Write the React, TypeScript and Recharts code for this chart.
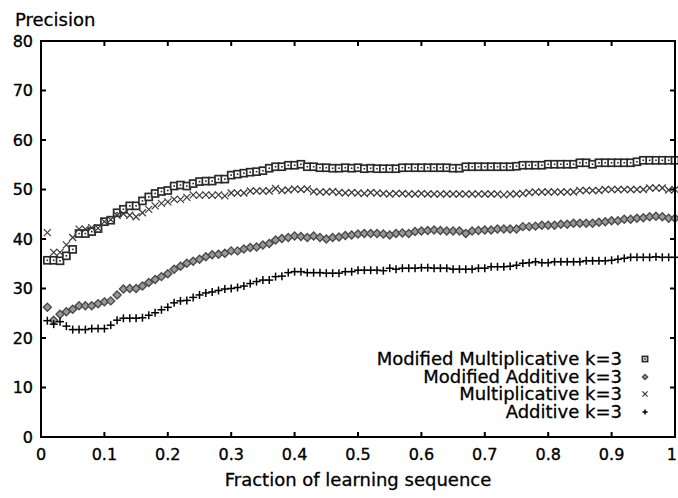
import React from "react";
import { ScatterChart, Scatter, XAxis, YAxis, ReferenceArea } from "recharts";

const fractions = [
  0.01, 0.02, 0.03, 0.04, 0.05, 0.06, 0.07, 0.08, 0.09, 0.1,
  0.11, 0.12, 0.13, 0.14, 0.15, 0.16, 0.17, 0.18, 0.19, 0.2,
  0.21, 0.22, 0.23, 0.24, 0.25, 0.26, 0.27, 0.28, 0.29, 0.3,
  0.31, 0.32, 0.33, 0.34, 0.35, 0.36, 0.37, 0.38, 0.39, 0.4,
  0.41, 0.42, 0.43, 0.44, 0.45, 0.46, 0.47, 0.48, 0.49, 0.5,
  0.51, 0.52, 0.53, 0.54, 0.55, 0.56, 0.57, 0.58, 0.59, 0.6,
  0.61, 0.62, 0.63, 0.64, 0.65, 0.66, 0.67, 0.68, 0.69, 0.7,
  0.71, 0.72, 0.73, 0.74, 0.75, 0.76, 0.77, 0.78, 0.79, 0.8,
  0.81, 0.82, 0.83, 0.84, 0.85, 0.86, 0.87, 0.88, 0.89, 0.9,
  0.91, 0.92, 0.93, 0.94, 0.95, 0.96, 0.97, 0.98, 0.99, 1.0,
];

const modifiedMultiplicative = [
  35.7, 35.7, 35.6, 36.6, 37.9, 41.1, 41.1, 41.5, 42.1, 43.5,
  43.8, 45.3, 46.0, 46.7, 46.7, 47.7, 48.5, 49.2, 49.6, 49.8,
  50.7, 50.9, 50.7, 51.2, 51.6, 51.7, 51.7, 52.1, 52.1, 52.9,
  53.1, 53.3, 53.5, 53.6, 53.8, 54.3, 54.6, 54.6, 54.9, 54.9,
  55.1, 54.6, 54.6, 54.4, 54.4, 54.3, 54.3, 54.4, 54.3, 54.4,
  54.2, 54.3, 54.2, 54.2, 54.2, 54.2, 54.4, 54.4, 54.4, 54.4,
  54.4, 54.4, 54.4, 54.4, 54.3, 54.3, 54.6, 54.6, 54.6, 54.6,
  54.6, 54.6, 54.6, 54.6, 54.7, 54.9, 54.9, 54.9, 54.9, 55.1,
  55.1, 55.1, 55.1, 55.1, 55.4, 55.4, 55.1, 55.4, 55.4, 55.4,
  55.4, 55.4, 55.4, 55.6, 55.9, 55.9, 55.9, 55.9, 55.9, 55.9,
];

const modifiedAdditive = [
  26.2, 23.6, 24.8, 25.3, 25.8, 26.5, 26.5, 26.5, 26.9, 27.3,
  27.5, 28.7, 29.9, 30.0, 30.0, 30.5, 31.2, 31.8, 32.4, 33.0,
  33.9, 34.5, 35.1, 35.5, 35.9, 36.4, 36.8, 36.9, 37.1, 37.6,
  37.6, 38.0, 38.3, 38.4, 38.8, 39.1, 39.8, 40.1, 40.3, 40.6,
  40.5, 40.3, 40.6, 40.3, 40.0, 40.3, 40.4, 40.7, 40.8, 41.0,
  41.1, 41.1, 41.1, 41.0, 40.8, 41.1, 41.2, 41.1, 41.5, 41.6,
  41.7, 41.8, 41.7, 41.6, 41.6, 41.6, 41.1, 41.6, 41.7, 41.8,
  41.8, 42.0, 42.0, 42.0, 42.0, 42.5, 42.5, 42.6, 42.8, 42.8,
  42.8, 43.0, 43.0, 43.2, 43.2, 43.2, 43.2, 43.4, 43.5, 43.7,
  43.7, 44.0, 44.0, 44.2, 44.3, 44.5, 44.6, 44.5, 44.2, 44.2,
];

const multiplicative = [
  41.3, 37.3, 37.3, 38.8, 40.3, 42.0, 42.0, 42.3, 42.2, 43.5,
  43.9, 44.8, 45.1, 44.8, 44.5, 45.3, 46.0, 46.7, 47.2, 47.5,
  48.0, 48.0, 48.4, 48.9, 48.8, 48.9, 48.8, 48.9, 48.7, 49.3,
  49.3, 49.3, 49.7, 49.7, 49.7, 49.7, 50.2, 49.8, 49.9, 50.1,
  50.0, 50.1, 49.6, 49.5, 49.5, 49.6, 49.4, 49.3, 49.4, 49.3,
  49.2, 49.4, 49.3, 49.2, 49.1, 49.2, 49.2, 49.1, 49.1, 49.2,
  49.1, 49.1, 49.1, 49.1, 49.1, 49.1, 49.1, 49.1, 49.1, 49.1,
  49.1, 49.1, 48.9, 49.1, 49.1, 49.2, 49.4, 49.5, 49.5, 49.5,
  49.5, 49.5, 49.5, 49.5, 49.8, 49.8, 49.8, 49.8, 50.0, 50.0,
  50.0, 50.0, 50.0, 50.0, 50.0, 50.3, 50.3, 50.3, 49.9, 50.0,
];

const additive = [
  23.5, 22.8, 23.3, 22.4, 21.7, 21.7, 21.7, 21.9, 21.9, 21.9,
  22.6, 23.6, 24.0, 24.0, 24.0, 24.1, 24.6, 25.1, 25.7, 26.2,
  27.1, 27.5, 27.6, 28.2, 28.7, 29.1, 29.3, 29.6, 29.9, 30.0,
  30.2, 30.5, 31.0, 31.4, 31.7, 31.7, 32.4, 32.5, 33.2, 33.4,
  33.4, 33.2, 33.2, 33.2, 33.1, 33.1, 33.1, 33.4, 33.4, 33.7,
  33.7, 33.7, 33.7, 33.6, 34.1, 33.9, 34.1, 34.1, 34.1, 34.2,
  34.2, 34.1, 34.1, 34.1, 33.9, 33.9, 33.9, 33.9, 34.1, 34.1,
  34.4, 34.4, 34.4, 34.5, 34.7, 35.1, 35.2, 35.4, 35.2, 35.2,
  35.4, 35.4, 35.4, 35.4, 35.4, 35.6, 35.6, 35.6, 35.6, 35.7,
  35.9, 36.1, 36.3, 36.3, 36.3, 36.3, 36.4, 36.3, 36.3, 36.3,
];

const xTicks = [0, 0.1, 0.2, 0.3, 0.4, 0.5, 0.6, 0.7, 0.8, 0.9, 1];
const yTicks = [0, 10, 20, 30, 40, 50, 60, 70, 80];

const legendLabels = [
  "Modified Multiplicative k=3",
  "Modified Additive k=3",
  "Multiplicative k=3",
  "Additive k=3",
];

const FONT = "'DejaVu Sans', sans-serif";

const toRows = (vals: number[]) => fractions.map((x, i) => ({ x, y: vals[i] }));

const SquareMark = ({ cx, cy, s = 3.5 }: any) => (
  <g>
    <rect x={cx - s} y={cy - s} width={2 * s} height={2 * s} fill="#fff" stroke="#2a2a2a" strokeWidth={1.7} />
    <rect x={cx - 0.8} y={cy - 0.8} width={1.6} height={1.6} fill="#222" />
  </g>
);
const DiamondMark = ({ cx, cy, s = 4 }: any) => (
  <polygon
    points={`${cx},${cy - s} ${cx + s},${cy} ${cx},${cy + s} ${cx - s},${cy}`}
    fill="#999"
    stroke="#4a4a4a"
    strokeWidth={1.4}
  />
);
const CrossMark = ({ cx, cy, s = 3.5 }: any) => (
  <g stroke="#3a3a3a" strokeWidth={1.2}>
    <line x1={cx - s} y1={cy - s} x2={cx + s} y2={cy + s} />
    <line x1={cx - s} y1={cy + s} x2={cx + s} y2={cy - s} />
  </g>
);
const PlusMark = ({ cx, cy, s = 4 }: any) => (
  <g stroke="#000" strokeWidth={1.5}>
    <line x1={cx - s} y1={cy} x2={cx + s} y2={cy} />
    <line x1={cx} y1={cy - s} x2={cx} y2={cy + s} />
  </g>
);

const marks = [SquareMark, DiamondMark, CrossMark, PlusMark];

const textBase = { fontFamily: FONT, fontSize: 16, fill: "#000", stroke: "#000", strokeWidth: 0.35 };

const XTick = (props: any) => {
  const { x, y, payload } = props;
  const v = payload.value;
  const isLast = v === 1;
  return (
    <text x={isLast ? x + 2 : x} y={y} dy="0.71em" textAnchor={isLast ? "end" : "middle"} {...textBase}>
      {String(v)}
    </text>
  );
};
const YTick = (props: any) => {
  const { x, y, payload } = props;
  return (
    <text x={x} y={y} dy="0.355em" textAnchor="end" {...textBase}>
      {String(payload.value)}
    </text>
  );
};

const htmlText = {
  fontFamily: FONT,
  fontSize: 18,
  lineHeight: "18px",
  color: "#000",
  whiteSpace: "nowrap" as const,
  WebkitTextStroke: "0.3px #000",
};

export default function App() {
  const W = 678;
  const H = 498;
  const margin = { top: 41, right: 3, bottom: 31, left: 0 };
  const yAxisW = 41;
  const xAxisH = 30;
  const plotL = margin.left + yAxisW;
  const plotT = margin.top;
  const plotW = W - margin.left - margin.right - yAxisW;
  const plotH = H - margin.top - margin.bottom - xAxisH;
  const plotR = plotL + plotW;
  const plotB = plotT + plotH;
  const TICK = 5;
  const xMin = 0, xMax = 1, yMin = 0, yMax = 80;
  const px = (v: number) => plotL + ((v - xMin) / (xMax - xMin)) * plotW;
  const py = (v: number) => plotB - ((v - yMin) / (yMax - yMin)) * plotH;
  const axisStyle = { stroke: "#000", strokeWidth: 2 };
  return (
    <div style={{ position: "absolute", left: 0, top: 0, width: W, height: H, background: "#fff" }}>
      <ScatterChart width={W} height={H} margin={margin}>
        <XAxis
          dataKey="x"
          type="number"
          domain={[xMin, xMax]}
          ticks={xTicks}
          height={xAxisH}
          axisLine={axisStyle}
          tickLine={false}
          tickSize={0}
          tickMargin={12}
          tick={<XTick />}
          interval={0}
        />
        <YAxis
          dataKey="y"
          type="number"
          domain={[yMin, yMax]}
          ticks={yTicks}
          width={yAxisW}
          axisLine={axisStyle}
          tickLine={false}
          tickSize={0}
          tickMargin={8}
          tick={<YTick />}
          interval={0}
        />
        <ReferenceArea
          x1={xMin}
          x2={xMax}
          y1={yMin}
          y2={yMax}
          fill="none"
          fillOpacity={0}
          stroke="#000"
          strokeWidth={2}
          strokeOpacity={1}
          ifOverflow="visible"
        />
        <Scatter data={toRows(modifiedMultiplicative)} isAnimationActive={false} shape={(p: any) => <SquareMark cx={p.cx} cy={p.cy} />} />
        <Scatter data={toRows(modifiedAdditive)} isAnimationActive={false} shape={(p: any) => <DiamondMark cx={p.cx} cy={p.cy} />} />
        <Scatter data={toRows(multiplicative)} isAnimationActive={false} shape={(p: any) => <CrossMark cx={p.cx} cy={p.cy} />} />
        <Scatter data={toRows(additive)} isAnimationActive={false} shape={(p: any) => <PlusMark cx={p.cx} cy={p.cy} />} />
      </ScatterChart>

      <svg
        style={{ position: "absolute", left: 0, top: 0, pointerEvents: "none", overflow: "visible", zIndex: 2 }}
        width={W}
        height={H}
      >
        <g stroke="#000" strokeWidth={2} fill="none">
          <path d={`M${plotL - 1},${plotT} L${plotR},${plotT} L${plotR},${plotB + 1}`} />
          {xTicks.slice(1, -1).map((t) => (
            <line key={`tt${t}`} x1={px(t)} y1={plotT} x2={px(t)} y2={plotT + TICK} />
          ))}
          {xTicks.slice(1, -1).map((t) => (
            <line key={`bt${t}`} x1={px(t)} y1={plotB} x2={px(t)} y2={plotB - TICK} />
          ))}
          {yTicks.slice(1, -1).map((t) => (
            <line key={`rt${t}`} x1={plotR} y1={py(t)} x2={plotR - TICK} y2={py(t)} />
          ))}
          {yTicks.slice(1, -1).map((t) => (
            <line key={`lt${t}`} x1={plotL} y1={py(t)} x2={plotL + TICK} y2={py(t)} />
          ))}
        </g>
      </svg>

      <div style={{ ...htmlText, position: "absolute", left: 15, top: 11 }}>Precision</div>
      <div style={{ ...htmlText, position: "absolute", left: 158, width: 400, top: 471, textAlign: "center" }}>
        Fraction of learning sequence
      </div>
      {legendLabels.map((label, i) => {
        const Mark = marks[i];
        const top = 351 + i * 17.5;
        return (
          <div key={label}>
            <div style={{ ...htmlText, lineHeight: "16px", position: "absolute", right: W - 622, top, textAlign: "right" }}>{label}</div>
            <svg style={{ position: "absolute", left: 639, top: top + 2, overflow: "visible" }} width={12} height={12}>
              <Mark cx={6} cy={6} s={2.6} />
            </svg>
          </div>
        );
      })}
    </div>
  );
}
